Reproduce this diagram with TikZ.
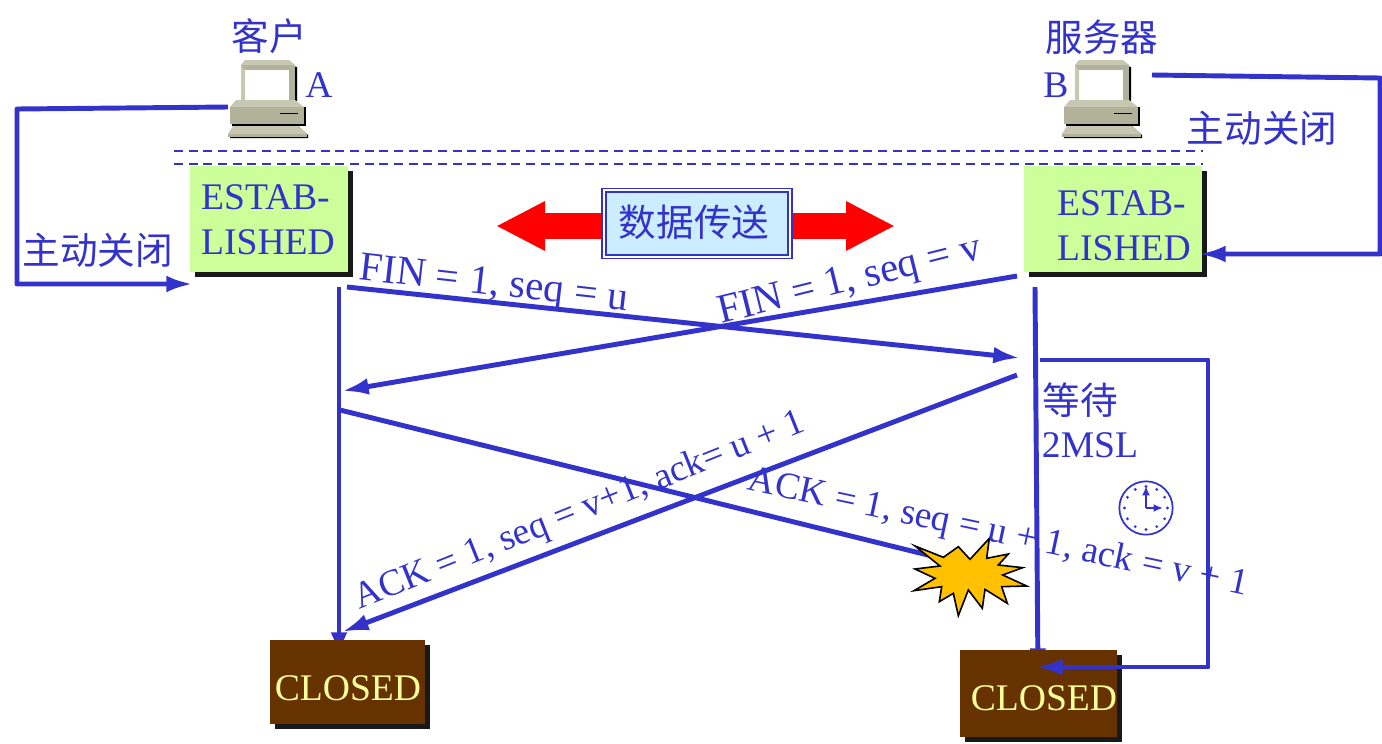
\documentclass[tikz,border=0pt]{standalone}
\usepackage{fontspec}
\setmainfont{Liberation Serif}
\newfontfamily\cjk{Noto Sans CJK SC}
\usetikzlibrary{arrows.meta,shadows}
\definecolor{Wire}{HTML}{3333CC}
\definecolor{Leaf}{HTML}{CCFF99}
\definecolor{Sky}{HTML}{CCECFF}
\definecolor{Umber}{HTML}{663300}
\definecolor{Cream}{HTML}{FFFF99}
\definecolor{Amber}{HTML}{FFC000}
\definecolor{Case}{HTML}{B2B29A}
\definecolor{CaseLight}{HTML}{C8C8B2}
\tikzset{
  big/.style={font=\fontsize{28.2}{33.75}\selectfont},
  lbl/.style={big,text=Wire,inner sep=0pt},
  cjklbl/.style={font=\fontsize{28.2}{33.75}\selectfont\cjk,text=Wire,inner sep=0pt},
  msg/.style={font=\fontsize{28}{33}\selectfont,text=Wire,inner sep=0pt},
  finmsg/.style={font=\fontsize{30.8}{36}\selectfont,text=Wire,inner sep=0pt},
  wire/.style={draw=Wire,line width=3.7pt,line join=round},
  arr/.style={wire,-{Latex[length=20pt,width=12.5pt]}},
  sep/.style={draw=Wire,line width=1.4pt,dash pattern=on 6.8pt off 4.2pt},
  state/.style={inner sep=0pt,drop shadow={shadow xshift=3.75pt,shadow yshift=-3.75pt,opacity=1,fill=black!90}},
  estab/.style={state,fill=Leaf,minimum width=118.5pt,minimum height=79.5pt},
  closedbox/.style={state,fill=Umber},
  closedtxt/.style={big,text=Cream,inner sep=0pt},
  computer/.pic={
    \fill[black] (60,5) -- (69,7) -- (69,41) -- (60,41) -- cycle;
    \fill[black] (4,47) -- (78,47) -- (78,66) -- (4,66) -- cycle;
    \fill[black] (70,66) -- (80,75) -- (80,78) -- (2,78) -- (2,74) -- cycle;
    \fill[Case] (13,5) -- (67,5) -- (67,40) -- (13,40) -- cycle;
    \fill[CaseLight] (17,0) -- (61,0) -- (67,5) -- (13,5) -- cycle;
    \fill[white] (17,10) -- (61,10) -- (61,40) -- (17,40) -- cycle;
    \fill[CaseLight] (13,40) -- (17,40) -- (17,10) -- (13,5) -- cycle;
    \fill[CaseLight] (2,47) -- (8,40) -- (67,40) -- (76,47) -- cycle;
    \fill[Case] (2,47) rectangle (76,64);
    \draw[black,line width=.6pt] (52,53) -- (70,53);
    \fill[CaseLight] (5,66) -- (70,66) -- (79,74) -- (0,74) -- cycle;
    \fill[Case] (0,74) rectangle (79,77);
  }
}
\begin{document}
\begin{tikzpicture}[x=.75pt,y=-.75pt]
  \useasboundingbox (0,0) rectangle (1382,743);
  \pic at (228,60) {computer};
  \pic at (1062,60) {computer};
  \node[cjklbl] (client) at (269,36) {客户};
  \node[lbl] (namea) at (319,85) {A};
  \node[cjklbl] (server) at (1102,37) {服务器};
  \node[lbl] (nameb) at (1056,85) {B};
  \node[cjklbl] (closea) at (98,250) {主动关闭};
  \node[cjklbl] (closeb) at (1262,128) {主动关闭};
  \coordinate (dasha) at (174,151); \coordinate (dashb) at (1203,151);
  \coordinate (dashc) at (174,164); \coordinate (dashd) at (1203,164);
  \draw[sep] (dasha) -- (dashb);
  \draw[sep] (dashc) -- (dashd);
  \node[estab] (estaba) at (269,219) {};
  \node[estab,minimum width=133.5pt] (estabb) at (1113,219) {};
  \node[lbl,align=left] (estabatxt) at (268,220) {ESTAB-\\LISHED};
  \node[lbl,align=left] (estabbtxt) at (1124,226) {ESTAB-\\LISHED};
  \coordinate (timea) at (339,287); \coordinate (timeb) at (339,659);
  \coordinate (timec) at (1035,287); \coordinate (timed) at (1038,675);
  \draw[arr] (timea) -- (timeb);
  \draw[arr] (timec) -- (timed);
  \node[closedbox,minimum width=116.25pt,minimum height=63pt] (closeda) at (347.5,682) {};
  \node[closedbox,minimum width=117.75pt,minimum height=65.25pt] (closedb) at (1038.5,693.5) {};
  \node[closedtxt] (closedatxt) at (348,688) {CLOSED};
  \node[closedtxt] (closedbtxt) at (1044,698) {CLOSED};
  \coordinate (datamid) at (697,226); \coordinate (tipl) at (496,226); \coordinate (tipr) at (895,226);
  \foreach \t in {tipl,tipr}{\draw[red,line width=19.5pt,-{Triangle[length=36.75pt,width=34.5pt]}] (datamid) -- (\t);}
  \node[draw=Wire,line width=1.2pt,double=white,double distance=1.5pt,fill=Sky,minimum width=139.5pt,minimum height=50pt,inner sep=0pt] (databox) at (697,223.5) {};
  \node[cjklbl] (datatxt) at (694,222) {数据传送};
  \coordinate (pcaport) at (228,107); \coordinate (lefta) at (17,109); \coordinate (leftb) at (17,284); \coordinate (estabain) at (193,284);
  \coordinate (pcbport) at (1152,75); \coordinate (righta) at (1380,78); \coordinate (rightb) at (1380,254); \coordinate (estabbin) at (1199,254);
  \draw[arr] (pcaport) -- (lefta) -- (leftb) -- (estabain);
  \draw[arr] (pcbport) -- (righta) -- (rightb) -- (estabbin);
  \coordinate (fina) at (347,287); \coordinate (finb) at (1020,358);
  \coordinate (finc) at (1017,276); \coordinate (find) at (342,391);
  \draw[arr] (fina) -- (finb);
  \draw[arr] (finc) -- (find);
  \coordinate (acka) at (340,410); \coordinate (ackb) at (940,558);
  \coordinate (ackc) at (1017,375); \coordinate (ackd) at (342,632);
  \draw[wire] (acka) -- (ackb);
  \draw[arr] (ackc) -- (ackd);
  \coordinate (waita) at (1040,360); \coordinate (waitb) at (1208,360); \coordinate (waitc) at (1208,667); \coordinate (waitd) at (1036,667);
  \draw[arr] (waita) -- (waitb) -- (waitc) -- (waitd);
  \draw[black,line width=1.2pt,fill=Amber,shift={(890,470)},x=.25pt,y=-.25pt] (75,228) -- (160,262) -- (205,230) -- (240,268) -- (298,205) -- (290,265) -- (355,252) -- (325,285) -- (398,293) -- (338,315) -- (410,348) -- (335,350) -- (352,400) -- (285,358) -- (277,415) -- (235,360) -- (205,437) -- (190,370) -- (148,395) -- (155,350) -- (72,362) -- (135,325) -- (75,297) -- (150,288) -- cycle;
  \node[cjklbl] (wait) at (1080,400) {等待};
  \node[lbl] (msl) at (1090,445) {2MSL};
  \node[finmsg,rotate=-6.5] (fin1) at (494,286) {FIN = 1, seq = u};
  \node[finmsg,rotate=14] (fin2) at (850,282) {FIN = 1, seq = v};
  \node[msg,rotate=21.8] (ack1) at (580,512) {ACK = 1, seq = v+1, ack= u + 1};
  \node[msg,rotate=-12] (ack2) at (998,534) {ACK = 1, seq = u + 1, ack = v + 1};
  \node[circle,draw=Wire,line width=1.3pt,minimum size=40pt,inner sep=0pt] (clock) at (1146,508) {};
  \foreach \a in {0,30,...,330}{\fill[Wire] (clock.center) ++(\a:21.5) circle (1.6);}
  \coordinate (hourtip) at (1146,486); \coordinate (mintip) at (1163,508);
  \draw[draw=Wire,line width=1.5pt,-{Latex[length=7pt,width=6pt]}] (clock.center) -- (hourtip);
  \draw[draw=Wire,line width=1.5pt,-{Latex[length=7pt,width=6pt]}] (clock.center) -- (mintip);
\end{tikzpicture}
\end{document}
